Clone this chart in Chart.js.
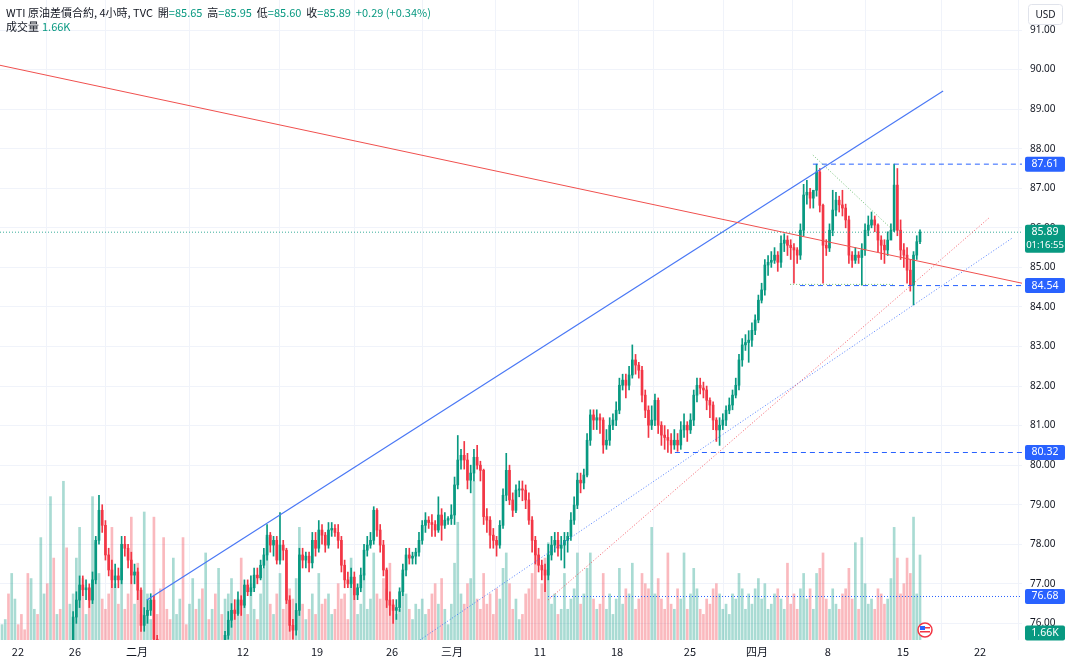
<!DOCTYPE html>
<html><head><meta charset="utf-8">
<script src="https://cdn.jsdelivr.net/npm/chart.js@4.4.1/dist/chart.umd.min.js"></script>
<style>html,body{margin:0;padding:0;background:#fff;}#c{display:block;}</style>
</head><body><canvas id="c" width="1067" height="660"></canvas>
<script>
// [open, high, low, close, volume(K)] — 4-hour bars
const bars = [
[74.9,75.2,74.7,75.0,0.3],[75.0,75.3,74.8,75.1,0.4],[75.1,75.3,74.9,74.95,0.9],[74.95,75.2,74.7,75.1,1.3],[75.1,75.4,74.9,75.2,0.8],[75.2,75.4,75.0,75.05,0.3],[75.05,75.3,74.8,74.9,0.5],[74.9,75.1,74.6,74.8,0.2],[74.8,75.0,74.5,74.7,1.3],[74.7,75.0,74.5,74.9,1.2],[74.9,75.2,74.8,75.1,0.6],[75.1,75.3,74.9,75.0,0.5],[75.0,75.2,74.8,75.15,2.0],[75.15,75.4,75.0,75.3,0.9],[75.3,75.45,75.1,75.2,1.1],[75.2,75.4,75.0,75.35,2.8],[75.35,75.5,75.1,75.2,1.6],[75.2,75.45,75.0,75.4,0.5],[75.4,75.5,75.2,75.3,0.6],[75.3,75.55,75.1,75.45,3.1],[75.45,75.5,75.2,75.3,1.8],[75.3,75.5,75.2,75.45,0.7],
[75.45,76.3,75.3,76.16,0.9],[76.16,76.8,76.0,76.59,1.6],[76.59,77.2,76.4,76.97,2.2],[76.97,77.2,76.7,76.85,1.2],[76.85,77.1,76.6,76.9,0.5],[76.9,77.0,76.4,76.59,1.0],[76.59,77.3,76.5,77.1,2.8],[77.1,78.2,77.0,78.1,1.9],[78.1,79.24,78.0,78.86,1.3],[78.86,79.0,78.3,78.48,0.8],[78.48,78.6,77.6,77.73,0.6],[77.73,77.9,77.2,77.35,0.9],[77.35,77.6,76.9,77.1,2.2],[77.1,77.5,76.9,77.2,1.1],[77.2,77.4,76.9,77.1,0.7],[77.1,78.2,77.0,78.0,1.4],[78.0,78.2,77.7,77.9,0.6],[77.9,78.0,77.4,77.6,0.9],[77.6,77.8,77.0,77.22,2.4],[77.22,77.5,77.0,77.3,0.7],[77.3,77.4,76.6,76.84,1.5],[76.84,76.9,75.8,75.95,0.5],[75.95,76.4,75.8,76.2,2.5],[76.2,76.6,76.0,76.33,0.9],[76.33,76.75,76.2,76.59,0.4],[76.59,76.7,75.4,75.6,2.4],
[75.6,75.7,75.2,75.3,0.5],[75.3,75.5,75.0,75.1,1.0],[75.1,75.3,74.8,74.9,2.0],[74.9,75.1,74.6,74.7,0.6],[74.7,74.9,74.4,74.5,0.4],[74.5,74.8,74.3,74.6,1.6],[74.6,74.9,74.4,74.8,0.5],[74.8,75.1,74.6,75.0,0.8],[75.0,75.2,74.8,74.9,2.0],[74.9,75.1,74.6,74.7,0.3],[74.7,75.0,74.5,74.9,0.7],[74.9,75.2,74.7,75.1,1.2],[75.1,75.3,74.9,75.0,0.6],[75.0,75.3,74.8,75.2,0.8],[75.2,75.4,75.0,75.1,1.0],[75.1,75.4,74.9,75.3,1.7],[75.3,75.5,75.1,75.2,0.4],[75.2,75.45,75.0,75.35,0.6],[75.35,75.5,75.1,75.25,0.9],[75.25,75.5,75.0,75.4,1.4],[75.4,75.55,75.2,75.3,0.5],[75.3,75.8,75.2,75.7,0.8],
[75.7,76.3,75.6,76.08,0.9],[76.08,76.5,75.9,76.33,1.2],[76.33,76.6,76.1,76.25,0.6],[76.25,76.8,76.2,76.59,0.8],[76.59,76.7,76.2,76.46,1.6],[76.46,77.1,76.4,76.97,0.7],[76.97,77.1,76.7,76.8,0.5],[76.8,77.2,76.7,76.9,1.1],[76.9,77.4,76.8,77.22,0.6],[77.22,77.4,77.0,77.15,0.4],[77.15,77.6,77.1,77.47,0.9],[77.47,77.9,77.4,77.73,1.4],[77.73,78.5,77.6,78.23,2.0],[78.23,78.3,77.8,77.98,0.7],[77.98,78.2,77.7,78.1,0.5],[78.1,78.2,77.5,77.6,0.9],[77.6,78.8,77.5,77.98,1.3],[77.98,78.1,77.6,77.85,0.6],[77.85,77.9,76.5,76.59,1.5],[76.59,76.7,75.8,75.95,1.0],[75.95,76.1,75.6,75.83,0.8],[75.83,76.5,75.7,76.33,1.2],[76.33,77.9,76.2,77.73,2.2],[77.73,77.9,77.4,77.6,0.7],[77.6,77.8,77.4,77.7,0.4],[77.7,77.8,77.3,77.53,0.6],[77.53,78.3,77.4,78.1,0.9],[78.1,78.3,77.7,77.9,0.5],[77.9,78.6,77.8,78.36,1.3],[78.36,78.5,78.0,78.23,0.7],[78.23,78.3,77.8,77.98,0.8],[77.98,78.55,77.9,78.36,0.9],[78.36,78.55,78.2,78.4,0.5],[78.4,78.5,78.2,78.3,0.6],[78.3,78.5,77.9,78.1,1.1],[78.1,78.2,77.3,77.47,0.8],[77.47,77.6,76.9,77.1,0.9],[77.1,77.3,76.9,77.0,0.4],[77.0,77.4,76.9,77.17,1.6],[77.17,77.3,76.6,76.72,1.0],[76.72,77.0,76.6,76.9,0.5],[76.9,77.4,76.8,77.22,0.7],[77.22,78.0,77.1,77.85,1.3],[77.85,78.2,77.7,77.98,0.6],[77.98,78.3,77.9,78.1,0.8],[78.1,78.95,78.0,78.86,1.7],[78.86,78.9,78.2,78.36,0.9],[78.36,78.5,77.8,77.98,0.8],[77.98,78.1,77.2,77.35,1.2],[77.35,77.4,76.4,76.59,1.0],[76.59,76.8,76.2,76.46,1.5],[76.46,76.6,76.0,76.33,0.7],[76.33,76.6,76.1,76.4,0.5],[76.4,76.9,76.3,76.8,0.6],[76.8,77.5,76.7,77.35,1.3],[77.35,77.9,77.2,77.73,0.9],[77.73,77.9,77.5,77.65,0.6],[77.65,77.8,77.5,77.7,0.4],[77.7,77.9,77.5,77.8,0.7],[77.8,78.3,77.7,78.1,0.6],[78.1,78.6,78.0,78.48,0.8],[78.48,78.8,78.3,78.61,0.5],[78.61,78.7,78.4,78.55,0.6],[78.55,78.75,78.2,78.5,0.9],[78.5,78.6,78.2,78.36,1.1],[78.36,79.2,78.3,78.74,0.7],[78.74,78.9,78.1,78.48,1.2],[78.48,78.8,78.4,78.61,0.6],[78.61,78.7,78.5,78.65,0.3],[78.65,79.0,78.5,78.74,0.7],[78.74,79.7,78.5,79.5,1.5],[79.5,80.75,79.4,80.13,2.3],[80.13,80.4,79.9,80.25,0.9],[80.25,80.6,79.9,80.13,0.7],[80.13,80.3,79.4,79.62,1.1],
[79.62,80.0,79.3,79.8,1.2],[79.8,80.4,79.6,80.2,3.1],[80.2,80.5,79.9,80.0,0.8],[80.0,80.1,79.6,79.87,0.6],[79.87,79.9,78.5,78.7,1.3],[78.7,78.9,78.3,78.61,0.7],[78.61,78.7,77.9,78.23,0.9],[78.23,78.4,77.9,78.1,0.5],[78.1,78.2,77.7,77.98,1.0],[77.98,78.6,77.9,78.48,0.8],[78.48,79.4,78.4,79.24,1.4],[79.24,80.3,79.1,79.87,1.7],[79.87,80.0,79.0,79.12,1.1],[79.12,79.3,78.7,78.86,0.6],[78.86,79.5,78.8,79.37,0.8],[79.37,79.6,79.2,79.4,0.4],[79.4,79.6,79.1,79.37,0.5],[79.37,79.5,78.9,79.12,0.9],[79.12,79.3,78.5,78.61,1.0],[78.61,78.7,77.8,78.1,1.3],[78.1,78.2,77.5,77.73,1.7],[77.73,77.9,77.3,77.47,0.8],[77.47,77.6,77.1,77.35,1.1],[77.35,77.5,76.8,77.22,1.6],[77.22,78.0,77.1,77.73,1.9],[77.73,78.2,77.6,77.98,0.7],[77.98,78.3,77.8,78.1,0.9],[78.1,78.3,77.7,77.9,0.5],[77.9,78.2,77.6,77.98,0.6],[77.98,78.3,77.4,78.1,1.3],[78.1,78.3,77.8,78.2,0.6],[78.2,78.8,78.1,78.61,0.8],[78.61,79.2,78.5,78.99,1.0],[78.99,79.8,78.9,79.62,1.7],[79.62,79.8,79.3,79.55,0.7],[79.55,79.9,79.4,79.75,0.9],[79.75,80.8,79.7,80.63,1.4],[80.63,81.4,80.5,81.27,1.7],[81.27,81.4,80.9,81.14,0.8],[81.14,81.4,80.9,81.2,0.6],[81.2,81.3,80.8,81.14,0.7],[81.14,81.2,80.3,80.51,1.3],[80.51,80.9,80.4,80.63,0.6],[80.63,81.2,80.5,81.01,0.9],[81.01,81.3,80.9,81.14,0.5],[81.14,81.6,81.0,81.39,0.8],[81.39,82.2,81.3,82.02,1.4],[82.02,82.3,81.9,82.15,0.7],[82.15,82.3,81.7,82.02,1.0],[82.02,82.5,81.9,82.28,0.9],[82.28,83.04,82.2,82.66,1.5],[82.66,82.8,82.3,82.53,0.6],[82.53,82.6,82.2,82.4,0.8],[82.4,82.5,81.6,81.77,1.3],[81.77,81.9,81.2,81.39,1.1],[81.39,81.5,80.7,81.01,1.0],[81.01,81.5,80.9,81.14,2.2],[81.14,81.8,81.0,81.64,0.9],[81.64,81.7,80.8,81.01,1.2],[81.01,81.1,80.5,80.76,0.8],[80.76,81.0,80.4,80.7,0.6],[80.7,80.9,80.32,80.63,1.7],[80.63,80.8,80.3,80.51,0.7],[80.51,80.9,80.4,80.63,0.6],[80.63,80.8,80.35,80.51,1.0],[80.51,81.1,80.4,80.89,0.8],[80.89,81.3,80.7,81.01,1.7],[81.01,81.1,80.6,80.89,0.6],[80.89,81.3,80.8,81.14,0.9],[81.14,81.9,81.0,81.77,1.4],[81.77,82.2,81.6,82.02,1.0],[82.02,82.2,81.8,81.95,0.6],[81.95,82.1,81.7,81.9,0.5],[81.9,82.0,81.4,81.64,0.8],[81.64,81.7,81.2,81.52,0.7],[81.52,81.6,80.9,81.14,1.0],[81.14,81.2,80.6,80.89,1.1],[80.89,81.2,80.5,81.01,0.9],[81.01,81.3,80.9,81.14,0.6],[81.14,81.5,81.0,81.39,0.7],[81.39,81.7,81.3,81.52,0.5],[81.52,81.9,81.4,81.77,0.9],[81.77,82.2,81.7,82.02,0.8],[82.02,82.8,81.9,82.66,1.3],[82.66,83.2,82.5,83.04,1.0],[83.04,83.3,82.9,83.1,0.6],[83.1,83.4,82.6,83.16,0.9],[83.16,83.6,83.0,83.41,0.7],[83.41,83.8,83.3,83.67,1.0],[83.67,84.3,83.6,84.17,1.2],[84.17,84.6,84.1,84.43,0.8],[84.43,85.2,84.3,85.06,1.1],[85.06,85.3,84.8,85.13,0.6],[85.13,85.4,85.0,85.18,0.7],[85.18,85.5,85.1,85.31,0.9],[85.31,85.4,84.9,85.13,1.0],[85.13,85.8,85.0,85.61,0.8],[85.61,85.85,85.4,85.69,0.6],[85.69,85.8,85.3,85.56,1.5],[85.56,85.7,85.2,85.5,0.7],[85.5,85.6,84.6,85.44,0.9],[85.44,85.5,85.1,85.31,0.6],[85.31,86.1,85.2,85.94,1.0],[85.94,87.1,85.8,86.83,1.3],[86.83,87.2,86.6,86.9,0.8],[86.9,87.0,86.5,86.75,1.0],[86.75,86.95,86.5,86.95,0.6],[86.95,87.61,86.8,87.41,1.3],[87.41,87.5,86.4,86.57,1.4],[86.57,86.6,84.6,85.56,1.7],[85.56,85.7,85.3,85.49,0.8],[85.49,86.1,85.4,85.94,0.6],[85.94,86.95,85.8,86.45,1.0],[86.45,86.9,86.3,86.7,0.7],[86.7,86.8,86.4,86.58,0.6],[86.58,86.95,86.3,86.5,0.9],[86.5,86.6,86.0,86.2,1.0],[86.2,86.3,85.1,85.31,1.4],[85.31,85.4,85.0,85.18,0.8],[85.18,85.5,85.1,85.31,1.9],[85.31,85.4,85.1,85.25,0.6],[85.25,85.6,84.55,85.44,2.0],[85.44,86.1,85.3,85.94,1.1],[85.94,86.3,85.8,86.07,0.7],[86.07,86.4,86.0,86.2,0.8],[86.2,86.3,85.9,86.07,0.6],[86.07,86.1,85.4,85.69,1.0],[85.69,85.8,85.2,85.56,0.9],[85.56,85.7,85.1,85.44,0.7],[85.44,85.9,85.3,85.69,0.8],[85.69,86.1,85.7,85.94,1.2],[85.94,87.61,85.9,87.08,2.2],[87.08,87.5,85.8,85.94,1.6],[85.94,86.2,85.2,85.44,0.9],[85.44,85.6,85.0,85.31,1.1],[85.31,85.5,84.6,84.93,1.6],[84.93,85.2,84.4,84.55,1.3],[84.55,85.4,84.05,85.31,2.4],[85.31,85.8,85.2,85.65,0.9],[85.65,85.95,85.60,85.89,1.66]
];
// x-axis labels and their positions (time slots, 3 px each)
const tickLabels = ['22','26','二月','12','19','26','三月','11','18','25','四月','8','15','22'];
const tickAt = [5.3,24.3,45,80.3,105,130,150,179.3,205,229.3,251.7,275.3,300.3,326];
const priceTicks = [76,77,78,79,80,81,82,83,84,85,86,87,88,89,90,91];
// drawn trend lines: [x1, y1, x2, y2] in time slots / price
const redTrend = [-0.67, 90.11, 340, 84.60];
const blueTrend = [48.3, 76.59, 313.7, 89.46];
const redDotted = [182, 76.59, 329.3, 86.27];
const blueDotted = [139.3, 75.58, 336.7, 85.74];
const greenDotted = [270.3, 87.84, 297, 85.94];
const greenFlat = [262.7, 84.57, 297, 84.57];
// horizontal levels: [start slot, price]
const levels = [[270.3, 87.61], [266, 84.54], [224.3, 80.32], [182, 76.68]];
const lastPrice = 85.89, lastVol = '1.66K', countdown = '01:16:55';
const lastSlot = 306; // slot of the most recent bar

const UP = '#089981', DN = '#F23645';
const k = lastSlot / (bars.length - 1);
const col = bars.map(b => b[3] >= b[0] ? UP : DN);
const volCol = bars.map(b => b[3] >= b[0] ? 'rgba(8,153,129,0.35)' : 'rgba(242,54,69,0.35)');
function seg(a, color, dash, w) {
  return {type: 'line', data: [{x: a[0], y: a[1]}, {x: a[2], y: a[3]}], borderColor: color, borderWidth: w || 1,
    borderDash: dash || [], pointRadius: 0, yAxisID: 'y', order: 1, tension: 0};
}
const datasets = [
  {type: 'bar', data: bars.map((b, i) => ({x: i * k, y: b[4]})), backgroundColor: volCol, barThickness: 2, grouped: false, yAxisID: 'yv', order: 10},
  {type: 'bar', data: bars.map((b, i) => ({x: i * k, y: [b[2], b[1]]})), backgroundColor: col, barThickness: 1, grouped: false, yAxisID: 'y', order: 4},
  {type: 'bar', data: bars.map((b, i) => ({x: i * k, y: [b[0], b[3]]})), backgroundColor: col, barThickness: 2, minBarLength: 1, grouped: false, yAxisID: 'y', order: 3},
  seg(redTrend, '#F0504E', [], 1),
  seg(blueTrend, '#4A78F5', [], 1.2),
  seg(redDotted, 'rgba(242,54,69,0.8)', [1, 2], 1),
  seg(blueDotted, 'rgba(41,98,255,0.8)', [1, 2], 1),
  seg(greenDotted, 'rgba(76,175,80,0.8)', [1, 2], 1),
  seg(greenFlat, 'rgba(76,175,80,0.8)', [1, 2], 1),
];
levels.forEach((l, j) => {
  datasets.push(seg([l[0], l[1], 340, l[1]], '#2962FF', j === 3 ? [1, 2] : [5, 4], 1));
});
datasets.push(seg([-0.67, lastPrice, 340, lastPrice], 'rgba(8,153,129,0.8)', [1, 2], 1));

const overlay = {
  id: 'overlay',
  afterDraw(chart) {
    const c = chart.ctx, y = chart.scales.y;
    c.save();
    c.textBaseline = 'middle';
    c.font = '10px "Noto Sans", sans-serif'; c.fillStyle = '#131722'; c.textAlign = 'left';
    priceTicks.forEach(v => c.fillText(v.toFixed(2), 1030, y.getPixelForValue(v)));
    c.font = '11px "Noto Sans CJK TC", "Noto Sans", sans-serif';
    let x = 6;
    const put = (t, color) => { c.fillStyle = color; c.textAlign = 'left'; c.fillText(t, x, 13); x += c.measureText(t).width; };
    put('WTI 原油差價合約, 4小時, TVC  開', '#131722'); put('=85.65  ', UP);
    put('高', '#131722'); put('=85.95  ', UP);
    put('低', '#131722'); put('=85.60  ', UP);
    put('收', '#131722'); put('=85.89  +0.29 (+0.34%)', UP);
    c.fillStyle = '#131722'; c.fillText('成交量', 6, 27);
    c.fillStyle = UP; c.fillText('1.66K', 42, 27);
    const badge = (py, lines, bg) => {
      const h = 15 * lines.length - (lines.length - 1) * 2;
      c.fillStyle = bg;
      c.beginPath(); c.roundRect(1025, py - 7.5, 40, h, 2); c.fill();
      c.fillStyle = '#fff'; c.textAlign = 'center';
      c.font = '10.5px "Noto Sans", sans-serif';
      lines.forEach((t, i) => { c.font = i ? '9.5px "Noto Sans", sans-serif' : '10.5px "Noto Sans", sans-serif'; c.fillText(t, 1045, py + i * 13); });
    };
    levels.forEach(l => badge(y.getPixelForValue(l[1]), [l[1].toFixed(2)], '#2962FF'));
    badge(y.getPixelForValue(lastPrice), [lastPrice.toFixed(2), countdown], '#089981');
    badge(633, [lastVol], '#089981');
    c.strokeStyle = '#e0e3eb'; c.lineWidth = 1;
    c.beginPath(); c.roundRect(1028.5, 4.5, 34, 20, 3); c.stroke();
    c.font = '10px "Noto Sans", sans-serif';
    c.fillStyle = '#131722'; c.textAlign = 'center'; c.fillText('USD', 1045.5, 15);
    c.fillStyle = '#fff'; c.strokeStyle = '#F23645'; c.lineWidth = 1.5;
    c.beginPath(); c.arc(925, 630, 7, 0, Math.PI * 2); c.fill(); c.stroke();
    c.fillStyle = '#2962FF'; c.fillRect(920, 626, 5, 4);
    c.fillStyle = '#F23645'; c.fillRect(920, 631, 10, 1.5); c.fillRect(925, 627, 5, 1.5);
    c.restore();
  }
};

new Chart(document.getElementById('c'), {
  type: 'bar',
  data: {datasets},
  plugins: [overlay],
  options: {
    responsive: false, animation: false, devicePixelRatio: 1,
    layout: {padding: 0},
    plugins: {legend: {display: false}, tooltip: {enabled: false}},
    scales: {
      x: {type: 'linear', min: -0.67, max: 340, offset: false,
        grid: {color: '#f0f3fa', drawTicks: false}, border: {display: false},
        afterBuildTicks: s => { s.ticks = tickAt.map(v => ({value: v})); },
        afterFit: s => { s.height = 20; },
        ticks: {autoSkip: false, maxRotation: 0, padding: 5, color: '#131722', font: {size: 11, family: '"Noto Sans CJK TC", "Noto Sans"'},
          callback: (v, i) => tickLabels[i]}},
      y: {position: 'right', min: 75.58, max: 91.76,
        grid: {color: '#f0f3fa', drawTicks: false}, border: {display: false},
        afterBuildTicks: s => { s.ticks = priceTicks.map(v => ({value: v})); },
        afterFit: s => { s.width = 45; s.paddingTop = 0; s.paddingBottom = 0; },
        ticks: {display: false}},
      yv: {display: false, min: 0, max: 12.5}
    }
  }
});
</script></body></html>
